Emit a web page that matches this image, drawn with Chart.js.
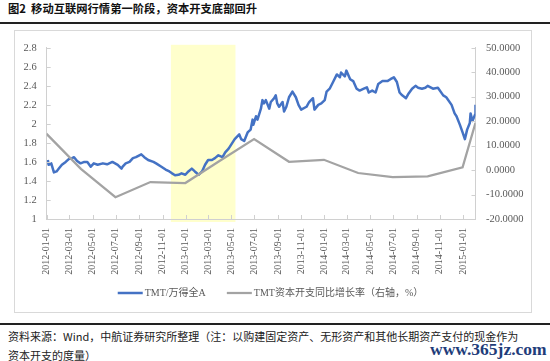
<!DOCTYPE html>
<html><head><meta charset="utf-8">
<script src="https://cdn.jsdelivr.net/npm/chart.js@4"></script>
<style>
body{margin:0;width:550px;height:361px;background:#fff;position:relative;overflow:hidden;font-family:'Noto Sans CJK SC',sans-serif;}
#title{position:absolute;left:8px;top:1px;font-size:11.3px;font-weight:bold;color:#111;line-height:14px;white-space:pre;}
.rule{position:absolute;left:0;width:550px;height:1.5px;background:#222;}
#box{position:absolute;left:14px;top:30px;width:516px;height:281px;border:1px solid #d9d9d9;}
#box canvas{display:block}
.foot{position:absolute;left:8px;font-size:11px;color:#222;white-space:nowrap;line-height:14px}
#wm{position:absolute;left:430px;top:339px;font-family:'Liberation Serif',serif;font-weight:bold;font-size:17.5px;line-height:20px;color:#1f3d7a;white-space:nowrap}
</style></head>
<body>
<div id="title">图2  移动互联网行情第一阶段，资本开支底部回升</div>
<div class="rule" style="top:22px"></div>
<div id="box"><canvas id="c" width="516" height="281"></canvas></div>
<div class="rule" style="top:323px"></div>
<div class="foot" style="top:329px">资料来源：Wind，中航证券研究所整理（注：以购建固定资产、无形资产和其他长期资产支付的现金作为</div>
<div class="foot" style="top:348px">资本开支的度量）</div>
<div id="wm">www.365jz.com</div>
<script>
const tickLabels = ['2012-01-01','2012-03-01','2012-05-01','2012-07-01','2012-09-01','2012-11-01','2013-01-01','2013-03-01','2013-05-01','2013-07-01','2013-09-01','2013-11-01','2014-01-01','2014-03-01','2014-05-01','2014-07-01','2014-09-01','2014-11-01','2015-01-01'];

const blueLabel = 'TMT/万得全A';
const blueDates = ['2012-01-04','2012-01-06','2012-01-13','2012-01-20','2012-01-27','2012-02-02','2012-02-10','2012-02-20','2012-02-28','2012-03-08','2012-03-13','2012-03-21','2012-03-30','2012-04-09','2012-04-17','2012-04-26','2012-05-04','2012-05-14','2012-05-28','2012-06-08','2012-06-22','2012-07-06','2012-07-16','2012-07-19','2012-07-27','2012-08-06','2012-08-15','2012-08-23','2012-09-06','2012-09-14','2012-09-24','2012-10-08','2012-10-15','2012-10-29','2012-11-09','2012-11-19','2012-11-26','2012-12-04','2012-12-13','2012-12-21','2012-12-31','2013-01-08','2013-01-17','2013-01-25','2013-02-04','2013-02-13','2013-02-21','2013-03-01','2013-03-11','2013-03-19','2013-03-28','2013-04-08','2013-04-15','2013-04-24','2013-05-02','2013-05-10','2013-05-22','2013-05-27','2013-06-04','2013-06-13','2013-06-21','2013-06-26','2013-06-28','2013-07-05','2013-07-09','2013-07-18','2013-07-22','2013-07-26','2013-07-31','2013-08-09','2013-08-13','2013-08-22','2013-08-26','2013-08-30','2013-09-04','2013-09-13','2013-09-17','2013-09-23','2013-09-30','2013-10-09','2013-10-18','2013-10-25','2013-11-01','2013-11-15','2013-11-22','2013-12-02','2013-12-06','2013-12-16','2013-12-24','2014-01-02','2014-01-07','2014-01-15','2014-01-24','2014-02-03','2014-02-11','2014-02-14','2014-02-24','2014-02-28','2014-03-10','2014-03-18','2014-03-27','2014-04-04','2014-04-15','2014-04-23','2014-04-28','2014-05-07','2014-05-16','2014-05-23','2014-06-03','2014-06-16','2014-06-24','2014-07-03','2014-07-11','2014-07-18','2014-07-25','2014-08-04','2014-08-11','2014-08-20','2014-08-29','2014-09-05','2014-09-15','2014-09-24','2014-09-30','2014-10-14','2014-10-27','2014-11-10','2014-11-18','2014-12-02','2014-12-10','2014-12-15','2014-12-24','2014-12-31','2015-01-06','2015-01-12','2015-01-19','2015-01-21','2015-01-26','2015-02-02','2015-02-03'];
const blueValues = [1.62,1.57,1.585,1.49,1.50,1.53,1.57,1.60,1.63,1.64,1.65,1.61,1.585,1.60,1.60,1.55,1.585,1.57,1.585,1.575,1.60,1.57,1.53,1.55,1.585,1.60,1.64,1.65,1.68,1.65,1.62,1.60,1.585,1.55,1.52,1.50,1.48,1.46,1.465,1.48,1.465,1.50,1.53,1.50,1.465,1.50,1.57,1.62,1.62,1.64,1.67,1.65,1.70,1.74,1.79,1.84,1.89,1.84,1.82,1.91,1.94,2.045,1.99,2.08,2.045,2.16,2.25,2.215,2.25,2.16,2.23,2.27,2.30,2.215,2.18,2.23,2.13,2.18,2.28,2.34,2.28,2.20,2.15,2.18,2.23,2.27,2.15,2.20,2.215,2.25,2.34,2.37,2.44,2.52,2.49,2.54,2.50,2.56,2.47,2.45,2.37,2.35,2.37,2.385,2.33,2.35,2.33,2.42,2.45,2.45,2.47,2.49,2.44,2.33,2.30,2.27,2.32,2.37,2.40,2.38,2.37,2.38,2.40,2.37,2.38,2.30,2.28,2.20,2.11,2.08,1.99,1.91,1.84,1.94,2.01,2.11,2.03,2.10,2.20];

const grayLabel = 'TMT资本开支同比增长率（右轴，%）';
const grayDates = ['2011-12-31','2012-03-31','2012-06-30','2012-09-30','2012-12-31','2013-03-31','2013-06-30','2013-09-30','2013-12-31','2014-03-31','2014-06-30','2014-09-30','2014-12-31','2015-02-03'];
const grayValues = [14.9,0.5,-11.1,-4.9,-5.3,3.7,12.7,3.4,4.2,-1.2,-2.9,-2.6,1.1,19.3];

const bandRange = ['2012-11-23','2013-05-12'];

const SERIF = "'Liberation Serif','Noto Sans CJK SC',serif";
const TXT = '#595959';
const AX = '#d0d0d0';
const base = Date.parse('2012-01-01T00:00:00Z');
const day = s => (Date.parse(s + 'T00:00:00Z') - base) / 864e5;

const bandPlugin = {
  id: 'band',
  beforeDraw(chart) {
    const {ctx, chartArea: a, scales: {x}} = chart;
    const x0 = x.getPixelForValue(day(bandRange[0]));
    const x1 = x.getPixelForValue(day(bandRange[1]));
    ctx.save();
    ctx.fillStyle = '#ffffcc';
    ctx.fillRect(x0, a.top - 3, x1 - x0, a.bottom - a.top + 6);
    ctx.restore();
  }
};

const decoPlugin = {
  id: 'deco',
  afterDraw(chart) {
    const {ctx, chartArea: a, scales: {x, y, y1}} = chart;
    ctx.save();
    ctx.strokeStyle = AX; ctx.lineWidth = 1;
    ctx.beginPath();
    x.ticks.forEach(t => { const p = Math.round(x.getPixelForValue(t.value)) + 0.5; ctx.moveTo(p, a.bottom); ctx.lineTo(p, a.bottom - 4); });
    y.ticks.forEach(t => { const p = Math.round(y.getPixelForValue(t.value)) + 0.5; ctx.moveTo(a.left, p); ctx.lineTo(a.left + 4, p); });
    y1.ticks.forEach(t => { const p = Math.round(y1.getPixelForValue(t.value)) + 0.5; ctx.moveTo(a.right, p); ctx.lineTo(a.right - 4, p); });
    ctx.stroke();
    // legend
    const ds = chart.data.datasets;
    ctx.font = '10px ' + SERIF;
    const lineW = 25, gapT = 2, gapI = 21;
    const widths = ds.map(d => ctx.measureText(d.label).width);
    const total = widths.reduce((s, w) => s + lineW + gapT + w, 0) + gapI * (ds.length - 1);
    let cx = 255.5 - total / 2;
    const cy = 262;
    ctx.textBaseline = 'middle'; ctx.textAlign = 'left';
    ds.forEach((d, i) => {
      ctx.strokeStyle = d.borderColor; ctx.lineWidth = d.borderWidth;
      ctx.beginPath(); ctx.moveTo(cx, cy); ctx.lineTo(cx + lineW, cy); ctx.stroke();
      ctx.fillStyle = TXT;
      ctx.fillText(d.label, cx + lineW + gapT, cy + 0.5);
      cx += lineW + gapT + widths[i] + gapI;
    });
    ctx.restore();
  }
};

new Chart(document.getElementById('c'), {
  type: 'line',
  data: {
    datasets: [
      {label: blueLabel, data: blueDates.map((d, i) => ({x: day(d), y: blueValues[i]})), yAxisID: 'y',
       borderColor: '#4472c4', backgroundColor: '#4472c4', borderWidth: 2.5, pointRadius: 0, tension: 0, order: 1, borderJoinStyle: 'round'},
      {label: grayLabel, data: grayDates.map((d, i) => ({x: day(d), y: grayValues[i]})), yAxisID: 'y1',
       borderColor: '#a3a3a3', backgroundColor: '#a3a3a3', borderWidth: 2.25, pointRadius: 0, tension: 0, order: 0}
    ]
  },
  options: {
    responsive: false, animation: false,
    layout: {padding: {top: 11.7, left: 0, right: 0, bottom: 0}},
    plugins: {legend: {display: false}, tooltip: {enabled: false}},
    scales: {
      x: {type: 'linear', min: day(tickLabels[0]), max: day(blueDates[blueDates.length - 1]),
        afterBuildTicks: s => { s.ticks = tickLabels.map(t => ({value: day(t)})); },
        afterFit: s => { s.height = 93; },
        grid: {display: false, drawTicks: false}, border: {display: true, color: AX, width: 1},
        ticks: {autoSkip: false, maxRotation: 90, minRotation: 90, padding: 9, color: TXT,
          font: {family: SERIF, size: 10}, callback: (v, i) => tickLabels[i]}},
      y: {position: 'left', min: 1, max: 2.8,
        afterFit: s => { s.width = 31.7; },
        grid: {display: false, drawTicks: false}, border: {display: true, color: AX, width: 1},
        ticks: {stepSize: 0.2, padding: 10, color: TXT, font: {family: SERIF, size: 10.5},
          callback: v => String(Math.round(v * 10) / 10)}},
      y1: {position: 'right', min: -20, max: 50,
        afterFit: s => { s.width = 55.5; },
        grid: {display: false, drawTicks: false}, border: {display: true, color: AX, width: 1},
        ticks: {stepSize: 10, padding: 10.5, color: TXT, font: {family: SERIF, size: 10.5},
          callback: v => v.toFixed(4)}}
    }
  },
  plugins: [bandPlugin, decoPlugin]
});
</script>
</body></html>
